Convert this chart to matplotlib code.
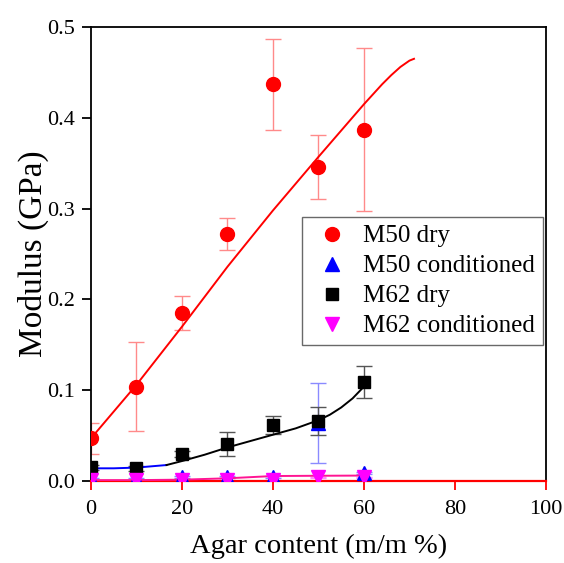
import matplotlib.pyplot as plt

plt.rcParams['font.family'] = ['Liberation Serif', 'DejaVu Serif']

# Agar content (m/m %)
agar = [0, 10, 20, 30, 40, 50, 60]

# modulus (GPa) and standard deviations
m50_dry = [0.047, 0.104, 0.185, 0.272, 0.437, 0.346, 0.387]
m50_dry_err = [0.017, 0.049, 0.019, 0.018, 0.050, 0.035, 0.090]
m50_cond = [0.002, 0.002, 0.004, 0.004, 0.004, 0.064, 0.009]
m50_cond_err = [0.001, 0.001, 0.001, 0.001, 0.001, 0.044, 0.001]
m62_dry = [0.015, 0.014, 0.030, 0.041, 0.062, 0.066, 0.109]
m62_dry_err = [0.003, 0.003, 0.003, 0.013, 0.010, 0.015, 0.018]
m62_cond = [0.001, 0.001, 0.001, 0.001, 0.001, 0.004, 0.004]
m62_cond_err = [0.0005, 0.0005, 0.0005, 0.0005, 0.0005, 0.0005, 0.0005]

# fitted curves
fit_m50_dry_x = [0, 10, 20, 30, 40, 50, 60, 62, 64, 66, 68, 70, 71]
fit_m50_dry_y = [0.047, 0.106, 0.170, 0.236, 0.298, 0.357, 0.415, 0.426, 0.437,
                 0.447, 0.456, 0.463, 0.465]
fit_m50_cond_x = [0, 5, 10, 16.6]
fit_m50_cond_y = [0.014, 0.014, 0.0148, 0.0176]
fit_m62_dry_x = [16.6, 20, 25, 30, 35, 40, 45, 50, 52.5, 55, 57.5, 60]
fit_m62_dry_y = [0.0176, 0.022, 0.029, 0.037, 0.044, 0.051, 0.058, 0.067, 0.073,
                 0.081, 0.091, 0.104]
fit_m62_cond_x = [0, 10, 20, 30, 40, 50, 60]
fit_m62_cond_y = [0.001, 0.001, 0.0015, 0.003, 0.0055, 0.0058, 0.006]
base_x = [0, 100]
base_y = [0.0003, 0.0003]

fig = plt.figure(figsize=(5.64, 5.63), dpi=100)
ax = fig.add_axes([0.1613, 0.1456, 0.8067, 0.8064])

ekw = dict(fmt='none', capsize=6, elinewidth=1.0, capthick=1.0, zorder=2)
ax.errorbar(agar, m50_dry, yerr=m50_dry_err, ecolor='#ff8a8a', **ekw)
ax.errorbar(agar, m50_cond, yerr=m50_cond_err, ecolor='#8a8aff', **ekw)
ax.errorbar(agar, m62_dry, yerr=m62_dry_err, ecolor='#555555', **ekw)
ax.errorbar(agar, m62_cond, yerr=m62_cond_err, ecolor='#ff8aff', **ekw)

ax.plot(base_x, base_y, color='red', lw=1.2, zorder=3)
ax.plot(fit_m50_dry_x, fit_m50_dry_y, color='red', lw=1.4, zorder=3)
ax.plot(fit_m50_cond_x, fit_m50_cond_y, color='blue', lw=1.4, zorder=3)
ax.plot(fit_m62_dry_x, fit_m62_dry_y, color='black', lw=1.4, zorder=3)
ax.plot(fit_m62_cond_x, fit_m62_cond_y, color='#ff1493', lw=1.4, zorder=3)

ax.plot(agar, m50_dry, 'o', color='red', ms=10, ls='none', label='M50 dry', zorder=4)
ax.plot(agar, m50_cond, '^', color='blue', ms=10, ls='none', label='M50 conditioned', zorder=4)
ax.plot(agar, m62_dry, 's', color='black', ms=9, ls='none', label='M62 dry', zorder=5)
ax.plot(agar, m62_cond, 'v', color='magenta', ms=10, ls='none', label='M62 conditioned', zorder=5)

ax.set_xlim(0, 100)
ax.set_ylim(0, 0.5)
ax.set_xticks([0, 20, 40, 60, 80, 100])
ax.set_yticks([0.0, 0.1, 0.2, 0.3, 0.4, 0.5])
ax.set_yticklabels(['0.0', '0.1', '0.2', '0.3', '0.4', '0.5'])
ax.tick_params(direction='out', length=6.5, width=1.3, labelsize=16, pad=5)
ax.tick_params(axis='x', colors='red', labelcolor='black', pad=7)
for s in ['left', 'top', 'right']:
    ax.spines[s].set_linewidth(1.3)
ax.spines['bottom'].set_color('red')
ax.spines['bottom'].set_linewidth(1.6)

ax.set_xlabel('Agar content (m/m %)', fontsize=20.5, labelpad=11)
ax.set_ylabel('Modulus (GPa)', fontsize=24, labelpad=-1)

leg = ax.legend(loc='upper left', bbox_to_anchor=(0.464, 0.581), fontsize=18,
                frameon=True, fancybox=False, edgecolor='#444444', borderaxespad=0,
                handletextpad=0.35, labelspacing=0.3, borderpad=0.3, handlelength=1.8)
leg.get_frame().set_linewidth(1.0)

fig.savefig('out.png', dpi=100)
